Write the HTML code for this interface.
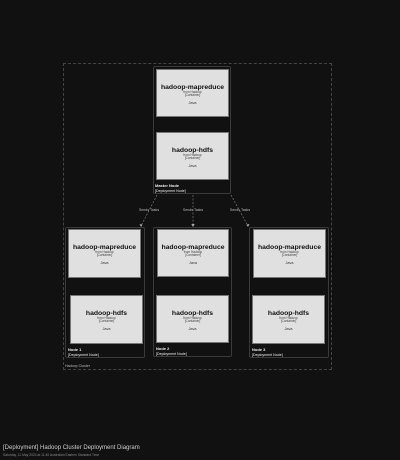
<!DOCTYPE html>
<html><head><meta charset="utf-8"><style>
body{margin:0;width:400px;height:460px;background:#111;position:relative;overflow:hidden;font-family:"Liberation Sans",sans-serif;color:#ddd}
.a{position:absolute}
.node{position:absolute;border:1px solid #3a3a3a;border-radius:2px;box-sizing:border-box}
.c{position:absolute;background:#e0e0e0;border:1px solid #777;box-sizing:border-box;text-align:center;color:#111}
.c b{display:block;font-size:6.8px;margin-top:13.5px}
.c i{display:block;font-style:normal;font-size:3.2px;line-height:3.6px;color:#444}
.c s{display:block;text-decoration:none;font-size:3.8px;margin-top:3px;color:#333}
.lb{position:absolute;font-size:3.6px;color:#eee;line-height:4.5px}
.lb .t{font-weight:bold;font-size:4px}
.st{position:absolute;font-size:3.6px;color:#bbb;transform:translateX(-50%)}
</style></head><body>
<div class="a" style="left:63px;top:63px;width:269px;height:307px;border:1px dashed #444;box-sizing:border-box"></div>
<div class="lb" style="left:65px;top:364px;color:#bbb">Hadoop Cluster</div>

<div class="node" style="left:153px;top:66px;width:78px;height:128px"></div>
<div class="c" style="left:156px;top:69px;width:73px;height:48px"><b>hadoop-mapreduce</b><i>from Hadoop<br>[Container]</i><s>Java</s></div>
<div class="c" style="left:156px;top:132px;width:73px;height:48px"><b>hadoop-hdfs</b><i>from Hadoop<br>[Container]</i><s>Java</s></div>
<div class="lb" style="left:155px;top:184px"><span class="t">Master Node</span><br>[Deployment Node]</div>

<div class="node" style="left:65px;top:227px;width:80px;height:131px"></div>
<div class="c" style="left:68px;top:229px;width:73px;height:49px"><b>hadoop-mapreduce</b><i>from Hadoop<br>[Container]</i><s>Java</s></div>
<div class="c" style="left:70px;top:295px;width:73px;height:49px"><b>hadoop-hdfs</b><i>from Hadoop<br>[Container]</i><s>Java</s></div>
<div class="lb" style="left:68px;top:348px"><span class="t">Node 1</span><br>[Deployment Node]</div>

<div class="node" style="left:153px;top:227px;width:79px;height:130px"></div>
<div class="c" style="left:157px;top:229px;width:72px;height:48px"><b>hadoop-mapreduce</b><i>from Hadoop<br>[Container]</i><s>Java</s></div>
<div class="c" style="left:156px;top:295px;width:73px;height:48px"><b>hadoop-hdfs</b><i>from Hadoop<br>[Container]</i><s>Java</s></div>
<div class="lb" style="left:156px;top:347px"><span class="t">Node 2</span><br>[Deployment Node]</div>

<div class="node" style="left:249px;top:227px;width:80px;height:131px"></div>
<div class="c" style="left:253px;top:229px;width:73px;height:49px"><b>hadoop-mapreduce</b><i>from Hadoop<br>[Container]</i><s>Java</s></div>
<div class="c" style="left:252px;top:295px;width:73px;height:49px"><b>hadoop-hdfs</b><i>from Hadoop<br>[Container]</i><s>Java</s></div>
<div class="lb" style="left:252px;top:348px"><span class="t">Node 3</span><br>[Deployment Node]</div>

<svg class="a" style="left:0;top:0" width="400" height="460">
<g stroke="#888" stroke-width="0.6" stroke-dasharray="2,1.5" fill="none">
<path d="M157 195 L141 226"/><path d="M193 195 L193 226"/><path d="M231 195 L248 226"/>
</g>
<g fill="#aaa"><path d="M141 227 l-1.5-3 l3 0.8z"/><path d="M193 227 l-1.7-3 l3.4 0z"/><path d="M248 227 l-1.5-2.3 l3-0.8z"/></g>
</svg>
<div class="st" style="left:149px;top:208px">Sends Tasks</div>
<div class="st" style="left:193px;top:208px">Sends Tasks</div>
<div class="st" style="left:240px;top:208px">Sends Tasks</div>

<div class="a" style="left:3px;top:445px;font-size:6px;color:#ccc">[Deployment] Hadoop Cluster Deployment Diagram</div>
<div class="a" style="left:3px;top:453px;font-size:3.3px;color:#888">Saturday, 11 May 2024 at 11:40 Australian Eastern Standard Time</div>
</body></html>
